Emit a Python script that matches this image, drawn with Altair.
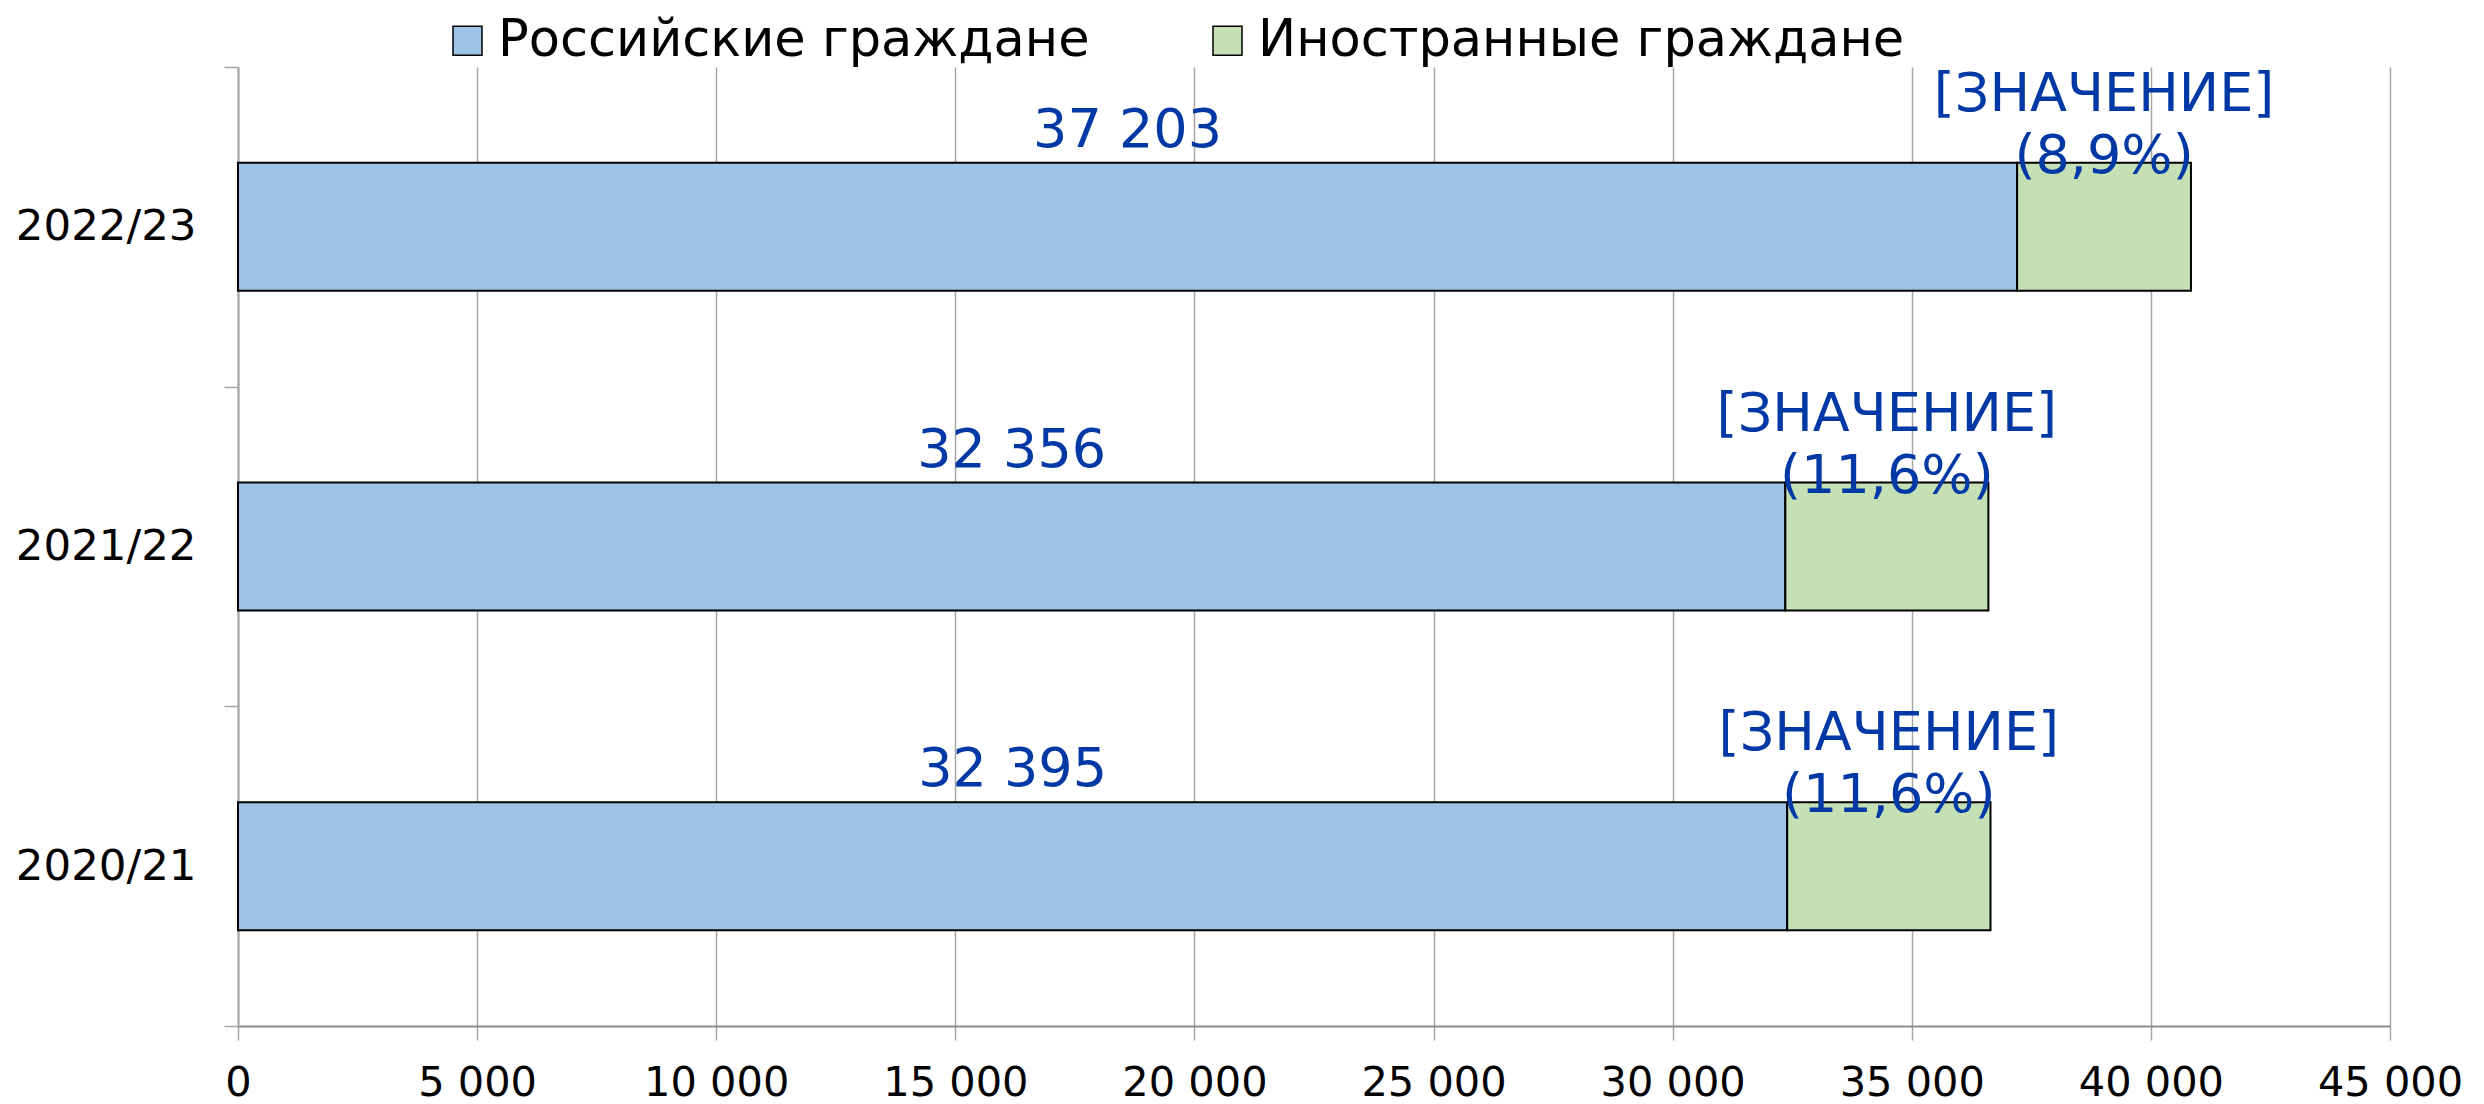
import altair as alt
import pandas as pd

years = ["2022/23", "2021/22", "2020/21"]
russian = [37203, 32356, 32395]
foreign = [3635, 4246, 4251]
foreign_share = ["8,9%", "11,6%", "11,6%"]
series_names = ["Российские граждане", "Иностранные граждане"]
series_colors = ["#9DC3E6", "#C5E0B4"]
placeholder = "[ЗНАЧЕНИЕ]"
x_ticks = [0, 5000, 10000, 15000, 20000, 25000, 30000, 35000, 40000, 45000]

rows = []
for y, r, f, s in zip(years, russian, foreign, foreign_share):
    rows.append(dict(year=y, series=series_names[0], start=0, end=r,
                     label=f"{r:,}".replace(",", " ")))
    rows.append(dict(year=y, series=series_names[1], start=r, end=r + f,
                     label=f"{placeholder}\n({s})"))
df = pd.DataFrame(rows)
df["mid"] = (df["start"] + df["end"]) / 2

FONT = "DejaVu Sans"
LABEL_COLOR = "#0039A6"

x_scale = alt.Scale(domain=[0, 45000], nice=False, zero=True)
y_scale = alt.Scale(paddingInner=0, paddingOuter=0)

base = alt.Chart(df)

bars = base.mark_bar(stroke="black", strokeWidth=2, size=128).encode(
    x=alt.X("start:Q", scale=x_scale,
            axis=alt.Axis(values=x_ticks, title=None, grid=True,
                          gridColor="#a6a6a6", gridWidth=1.5,
                          domainColor="#8c8c8c", domainWidth=2,
                          tickColor="#a6a6a6", tickWidth=1.5, tickSize=14,
                          labelFont=FONT, labelFontSize=41.5, labelColor="black",
                          labelPadding=22, labelFlush=False, labelOverlap=False,
                          labelExpr="replace(format(datum.value, ','), ',', ' ')")),
    x2="end:Q",
    y=alt.Y("year:N", sort=years, scale=y_scale,
            axis=alt.Axis(title=None, tickBand="extent", tickSize=14,
                          tickColor="#a6a6a6", tickWidth=1.5,
                          domainColor="#a6a6a6", domainWidth=2,
                          labelFont=FONT, labelFontSize=43.5, labelColor="black",
                          labelPadding=28, labelLimit=400)),
    color=alt.Color("series:N",
                    scale=alt.Scale(domain=series_names, range=series_colors),
                    legend=alt.Legend(orient="none", legendX=204, legendY=-52,
                                      direction="horizontal", title=None,
                                      symbolType="square", symbolSize=841,
                                      symbolStrokeColor="black", symbolStrokeWidth=1.5,
                                      symbolOpacity=1,
                                      labelFont=FONT, labelFontSize=51,
                                      labelColor="black", labelOffset=5,
                                      columnPadding=112, labelLimit=1000)),
)

rus_text = base.transform_filter(
    alt.datum.series == series_names[0]
).mark_text(font=FONT, fontSize=54, color=LABEL_COLOR, align="center",
            baseline="alphabetic", dy=-80).encode(
    x=alt.X("mid:Q", scale=x_scale),
    y=alt.Y("year:N", sort=years, scale=y_scale),
    text="label:N",
)

for_text = base.transform_filter(
    alt.datum.series == series_names[1]
).mark_text(font=FONT, fontSize=54, color=LABEL_COLOR, align="center",
            baseline="alphabetic", dy=-116, lineBreak="\n", lineHeight=62).encode(
    x=alt.X("mid:Q", scale=x_scale),
    y=alt.Y("year:N", sort=years, scale=y_scale),
    text="label:N",
)

chart = alt.layer(bars, rus_text, for_text).properties(
    width=2152, height=959,
    autosize=alt.AutoSizeParams(type="none"),
    padding={"left": 230, "top": 59, "right": 86, "bottom": 78},
).configure_view(stroke=None)

chart.save("out.html", embed_options={"renderer": "svg", "actions": False})
